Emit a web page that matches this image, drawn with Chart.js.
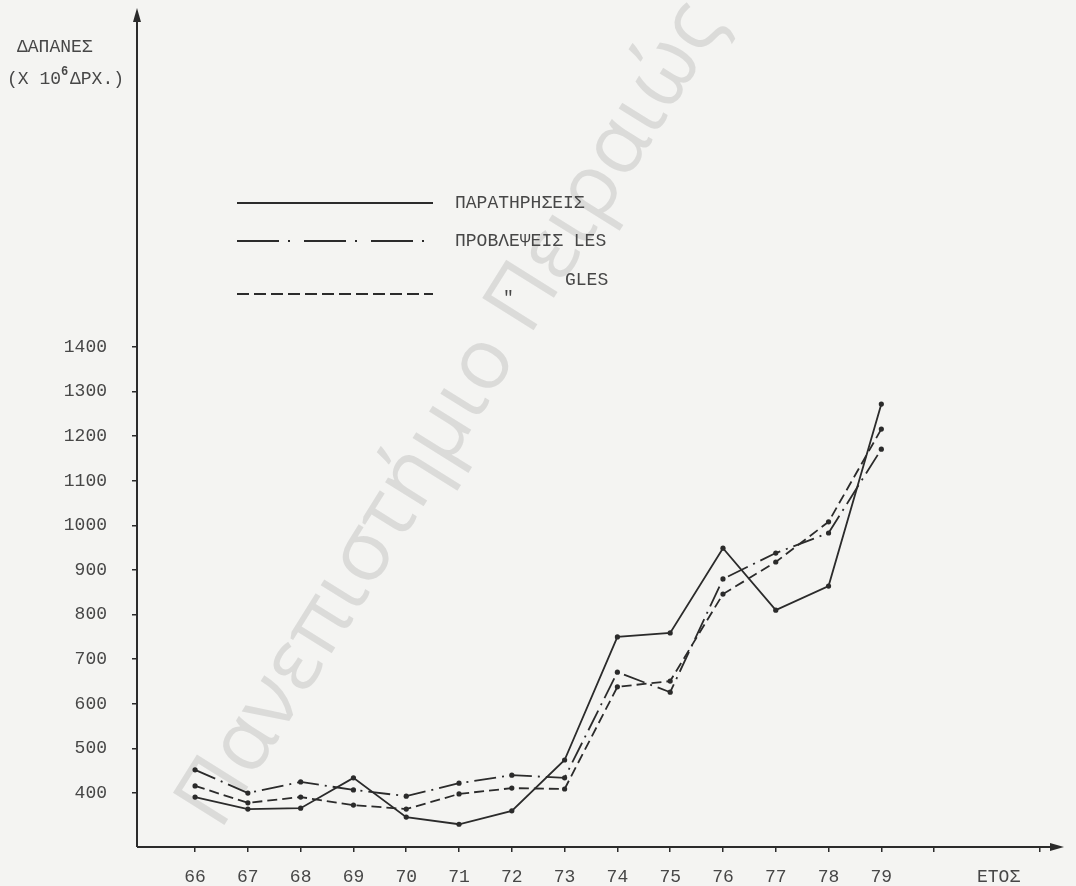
<!DOCTYPE html>
<html>
<head>
<meta charset="utf-8">
<script src="https://cdn.jsdelivr.net/npm/chart.js@4/dist/chart.umd.min.js"></script>
<style>
  html, body { margin: 0; padding: 0; background: #f4f4f2; }
  #wrap { width: 1076px; height: 886px; }
</style>
</head>
<body>
<div id="wrap"><canvas id="chart"></canvas></div>
<script>
const years = [66, 67, 68, 69, 70, 71, 72, 73, 74, 75, 76, 77, 78, 79];
const observed = [391, 364, 366, 434, 346, 330, 360, 474, 750, 759, 949, 810, 864, 1272];
const lesForecast = [452, 400, 425, 407, 393, 422, 440, 434, 671, 626, 880, 938, 983, 1171];
const glesForecast = [416, 378, 391, 373, 364, 398, 411, 409, 638, 651, 846, 918, 1008, 1216];
const yTicks = [400, 500, 600, 700, 800, 900, 1000, 1100, 1200, 1300, 1400];
const xTicks = [66, 67, 68, 69, 70, 71, 72, 73, 74, 75, 76, 77, 78, 79, 80, 82];

const ink = '#2b2b2b';
const textInk = '#474747';
const mono = '"Liberation Mono", "DejaVu Sans Mono", monospace';

const points = (vals) => years.map((yr, i) => ({ x: yr, y: vals[i] }));

const lineStyle = {
  borderColor: ink,
  borderWidth: 1.8,
  pointRadius: 2.6,
  pointBackgroundColor: ink,
  pointBorderWidth: 0,
  tension: 0,
  fill: false,
};

// arrow helper for the hand drawn axes
function arrow(ctx, x, y, dir) {
  ctx.beginPath();
  if (dir === 'up') {
    ctx.moveTo(x, y);
    ctx.lineTo(x - 4, y + 14);
    ctx.lineTo(x + 4, y + 14);
  } else {
    ctx.moveTo(x, y);
    ctx.lineTo(x - 14, y - 4);
    ctx.lineTo(x - 14, y + 4);
  }
  ctx.closePath();
  ctx.fill();
}

const paper = {
  id: 'paper',
  beforeDraw(chart) {
    const ctx = chart.ctx;
    ctx.save();
    ctx.fillStyle = '#f4f4f2';
    ctx.fillRect(0, 0, chart.width, chart.height);
    // watermark
    ctx.translate(220, 832);
    ctx.rotate(-58 * Math.PI / 180);
    ctx.font = '85px "Open Sans"';
    ctx.fillStyle = 'rgba(0,0,0,0.1)';
    ctx.textBaseline = 'alphabetic';
    ctx.fillText('Πανεπιστήμιο Πειραιώς', 0, 0);
    ctx.restore();
  },
  afterDraw(chart) {
    const ctx = chart.ctx;
    const a = chart.chartArea;
    ctx.save();
    ctx.strokeStyle = ink;
    ctx.fillStyle = ink;
    ctx.lineWidth = 2;
    ctx.beginPath();
    ctx.moveTo(a.left, a.bottom);
    ctx.lineTo(a.left, a.top + 4);
    ctx.moveTo(a.left, a.bottom);
    ctx.lineTo(a.right - 4, a.bottom);
    ctx.stroke();
    arrow(ctx, a.left, a.top, 'up');
    arrow(ctx, a.right, a.bottom, 'right');

    // axis titles
    ctx.fillStyle = textInk;
    ctx.font = '18px ' + mono;
    ctx.textBaseline = 'middle';
    ctx.textAlign = 'left';
    ctx.fillText('ΔΑΠΑΝΕΣ', 17, 47);
    ctx.fillText('(X 10', 7, 79);
    let w = ctx.measureText('(X 10').width;
    ctx.font = 'bold 12px ' + mono;
    ctx.fillText('6', 7 + w, 72);
    ctx.font = '18px ' + mono;
    ctx.fillText('ΔΡΧ.)', 7 + w + 9, 79);
    ctx.fillText('ΕΤΟΣ', 977, 877);

    // legend
    const ds = chart.data.datasets;
    const rows = [
      { y: 203, dash: [], text: ds[0].label, tx: 455, ty: 203 },
      { y: 241, dash: [42, 9, 2, 14], text: ds[1].label, tx: 455, ty: 241 },
      { y: 294, dash: [12, 5], text: ds[2].label, tx: 565, ty: 280 },
    ];
    ctx.strokeStyle = ink;
    ctx.lineWidth = 2;
    rows.forEach((r) => {
      ctx.setLineDash(r.dash);
      ctx.beginPath();
      ctx.moveTo(237, r.y);
      ctx.lineTo(433, r.y);
      ctx.stroke();
      ctx.fillText(r.text, r.tx, r.ty);
    });
    ctx.setLineDash([]);
    ctx.fillText('"', 503, 298);
    ctx.restore();
  },
};

const chart = new Chart(document.getElementById('chart'), {
  type: 'line',
  data: {
    datasets: [
      Object.assign({ label: 'ΠΑΡΑΤΗΡΗΣΕΙΣ', data: points(observed), borderDash: [] }, lineStyle),
      Object.assign({ label: 'ΠΡΟΒΛΕΨΕΙΣ LES', data: points(lesForecast), borderDash: [22, 6, 2, 6] }, lineStyle),
      Object.assign({ label: 'GLES', data: points(glesForecast), borderDash: [10, 5] }, lineStyle),
    ],
  },
  options: {
    responsive: true,
    maintainAspectRatio: false,
    animation: false,
    devicePixelRatio: 1,
    layout: { padding: { top: 8, right: 12, bottom: 0, left: 0 } },
    plugins: {
      legend: { display: false },
      tooltip: { enabled: false },
    },
    scales: {
      x: {
        type: 'linear',
        min: 64.9,
        max: 82.46,
        afterBuildTicks: (s) => { s.ticks = xTicks.map((v) => ({ value: v })); },
        afterFit: (s) => {
          s.height = 39;
          s.paddingLeft = 0;
          s.paddingRight = 0;
        },
        border: { display: false },
        grid: { drawOnChartArea: false, drawTicks: true, tickLength: 5, color: ink, lineWidth: 1.5 },
        ticks: {
          padding: 14,
          color: textInk,
          font: { family: mono, size: 18 },
          maxRotation: 0,
          autoSkip: false,
          callback: (v) => (v <= 79 ? String(v) : ''),
        },
      },
      y: {
        min: 279,
        max: 2160,
        afterBuildTicks: (s) => { s.ticks = yTicks.map((v) => ({ value: v })); },
        afterFit: (s) => {
          s.width = 137;
          s.paddingTop = 0;
          s.paddingBottom = 0;
        },
        border: { display: false },
        grid: { drawOnChartArea: false, drawTicks: true, tickLength: 5, color: ink, lineWidth: 1.5 },
        ticks: {
          padding: 25,
          color: textInk,
          font: { family: mono, size: 18 },
          autoSkip: false,
          callback: (v) => String(v),
        },
      },
    },
  },
  plugins: [paper],
});
</script>
</body>
</html>
